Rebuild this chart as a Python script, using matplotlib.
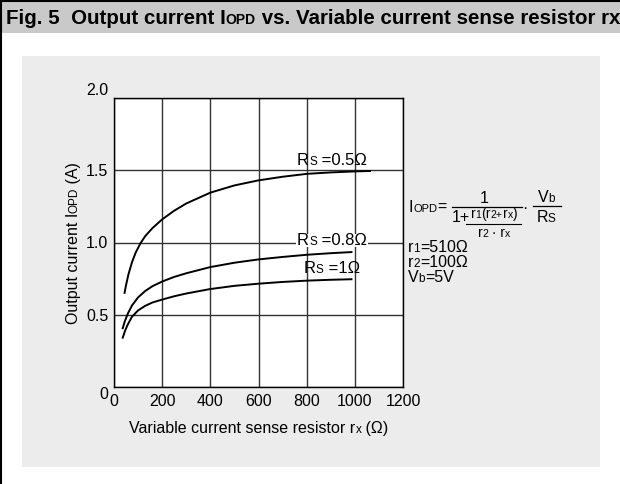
import numpy as np
import matplotlib
matplotlib.use("Agg")
import matplotlib.pyplot as plt
from matplotlib.patches import Rectangle
from matplotlib.lines import Line2D

plt.rcParams['font.family'] = ['Liberation Sans', 'DejaVu Sans']

# data
rx_05 = [43, 50, 60, 75, 90, 110, 130, 160, 200, 250, 300, 400, 500, 600, 700, 800, 900, 1000, 1067]
iopd_05 = [0.645, 0.705, 0.78, 0.865, 0.93, 0.995, 1.045, 1.10, 1.16, 1.22, 1.27, 1.345, 1.395, 1.43, 1.455, 1.475, 1.485, 1.492, 1.495]

rx_08 = [35, 45, 58, 75, 100, 130, 160, 200, 250, 300, 400, 500, 600, 700, 800, 900, 990]
iopd_08 = [0.40, 0.455, 0.51, 0.565, 0.62, 0.665, 0.698, 0.73, 0.762, 0.787, 0.83, 0.86, 0.883, 0.90, 0.915, 0.926, 0.934]

rx_1 = [35, 45, 55, 74, 100, 130, 160, 200, 250, 300, 400, 500, 600, 700, 800, 900, 990]
iopd_1 = [0.335, 0.385, 0.425, 0.485, 0.53, 0.562, 0.585, 0.605, 0.628, 0.647, 0.678, 0.70, 0.715, 0.727, 0.736, 0.742, 0.746]

x_ticks = [0, 200, 400, 600, 800, 1000, 1200]
y_ticks = [0, 0.5, 1.0, 1.5, 2.0]
y_tick_labels = ["0", "0.5", "1.0", "1.5", "2.0"]

W, H = 620, 484
fig = plt.figure(figsize=(W / 100, H / 100), dpi=100)
fig.patch.set_facecolor('white')
renderer = fig.canvas.get_renderer()


def fx(x):
    return x / W


def fy(y):
    return 1 - y / H


def rect(x0, y0, x1, y1, color, z=-10):
    fig.patches.append(Rectangle((fx(x0), fy(y1)), (x1 - x0) / W, (y1 - y0) / H,
                                 transform=fig.transFigure, fc=color, ec='none', zorder=z))


def runs(x, y, parts, ha='left', bold=False, bg=None):
    # parts: (text, size, dy) ; x,y in pixels from top-left, y = baseline
    items = []
    cur = x
    for s, size, dy in parts:
        t = fig.text(fx(cur), fy(y + dy), s, fontsize=size, va='baseline', ha='left',
                     fontweight='bold' if bold else 'normal', zorder=5)
        items.append((t, cur, y + dy))
        cur += t.get_window_extent(renderer).width
    total = cur - x
    shift = total / 2 if ha == 'center' else 0
    for t, xx, yy in items:
        t.set_x(fx(xx - shift))
    if bg:
        rect(x - shift - 1, y - 11, x - shift + total + 1, y + 2, bg, z=4)
    return total


def vruns(x, y, parts):
    # vertical text, centred on y
    items = []
    cur = 0
    for s, sz in parts:
        t = fig.text(fx(x), 0, s, fontsize=sz, rotation=90, rotation_mode='anchor',
                     va='baseline', ha='left', zorder=5)
        items.append((t, cur))
        cur += t.get_window_extent(renderer).height
    for t, off in items:
        t.set_y(fy(y + cur / 2 - off))


def hline(x0, x1, y, lw=1.0):
    fig.lines.append(Line2D([fx(x0), fx(x1)], [fy(y), fy(y)], transform=fig.transFigure,
                            color='black', lw=lw, zorder=5))


# frame, title bar and panel
rect(2, 2, 620, 33, '#c9c9c9')
rect(22, 56, 600, 467, '#ececec')
fig.lines.append(Line2D([fx(1), fx(1)], [0, 1], transform=fig.transFigure, color='black', lw=1.5))
fig.lines.append(Line2D([0, 1], [fy(1), fy(1)], transform=fig.transFigure, color='black', lw=1.5))

runs(6, 24, [("Fig. 5  Output current I", 14.8, 0), ("OPD", 10, 0),
             (" vs. Variable current sense resistor rx", 14.8, 0)], bold=True)

# axes
ax = fig.add_axes([fx(114), fy(387), 289 / W, 289 / H])
ax.set_zorder(1)
ax.set_facecolor('white')
ax.set_xlim(0, 1200)
ax.set_ylim(0, 2)
ax.set_xticks(x_ticks)
ax.set_yticks(y_ticks)
ax.set_yticklabels(y_tick_labels)
ax.grid(True, color='#333333', lw=1.0)
ax.set_axisbelow(True)
ax.tick_params(length=0, labelsize=11.5)
ax.tick_params(axis='x', pad=5)
ax.tick_params(axis='y', pad=4)
for s in ax.spines.values():
    s.set_color('black')
    s.set_linewidth(1.0)
ylabels = ax.get_yticklabels()
ylabels[0].set_va('top')
ylabels[-1].set_va('bottom')

for rx, iv in [(rx_05, iopd_05), (rx_08, iopd_08), (rx_1, iopd_1)]:
    ax.plot(rx, iv, color='black', lw=1.4, solid_capstyle='butt', solid_joinstyle='round')

# curve labels
runs(297, 165, [("R", 12, 0), ("S", 8.5, 0), (" =0.5\u03a9", 12, 0)])
runs(297, 245, [("R", 12, 0), ("S", 8.5, 0), (" =0.8\u03a9", 12, 0)], bg='white')
runs(304, 273, [("R", 12, 0), ("S", 8.5, 0), (" =1\u03a9", 12, 0)])

# axis labels
runs(259, 433, [("Variable current sense resistor r", 11.5, 0), ("x", 8.5, 0), (" (\u03a9)", 11.5, 0)], ha='center')
vruns(78, 243, [("Output current I", 11.5), ("OPD", 8.5), (" (A)", 11.5)])

# formula
runs(409, 212, [("I", 11.5, 0), ("OPD", 8, 0), ("=", 11.5, 0)])
hline(452, 522, 207, 0.9)
runs(484, 203, [("1", 11.5, 0)], ha='center')
runs(452, 222, [("1+", 11.5, 0)])
runs(494, 218, [("r", 10, 0), ("1", 7.5, 0), ("(r", 10, 0), ("2+", 7.5, 0), ("r", 10, 0), ("x", 7.5, 0), (")", 10, 0)], ha='center')
hline(466, 521, 224, 0.8)
runs(494, 237, [("r", 10, 0), ("2", 7.5, 0), (" \u00b7 r", 10, 0), ("x", 7.5, 0)], ha='center')
runs(525, 213, [("\u00b7", 11.5, 0)], ha='center')
runs(546, 202, [("V", 11.5, 0), ("b", 8.5, 0)], ha='center')
hline(533, 561, 206, 0.9)
runs(546, 222, [("R", 11.5, 0), ("S", 8.5, 0)], ha='center')

runs(408, 252, [("r", 11.5, 0), ("1", 8.5, 0), ("=510\u03a9", 11.5, 0)])
runs(408, 267, [("r", 11.5, 0), ("2", 8.5, 0), ("=100\u03a9", 11.5, 0)])
runs(408, 282, [("V", 11.5, 0), ("b", 8.5, 0), ("=5V", 11.5, 0)])

fig.savefig('out.png', dpi=100)
